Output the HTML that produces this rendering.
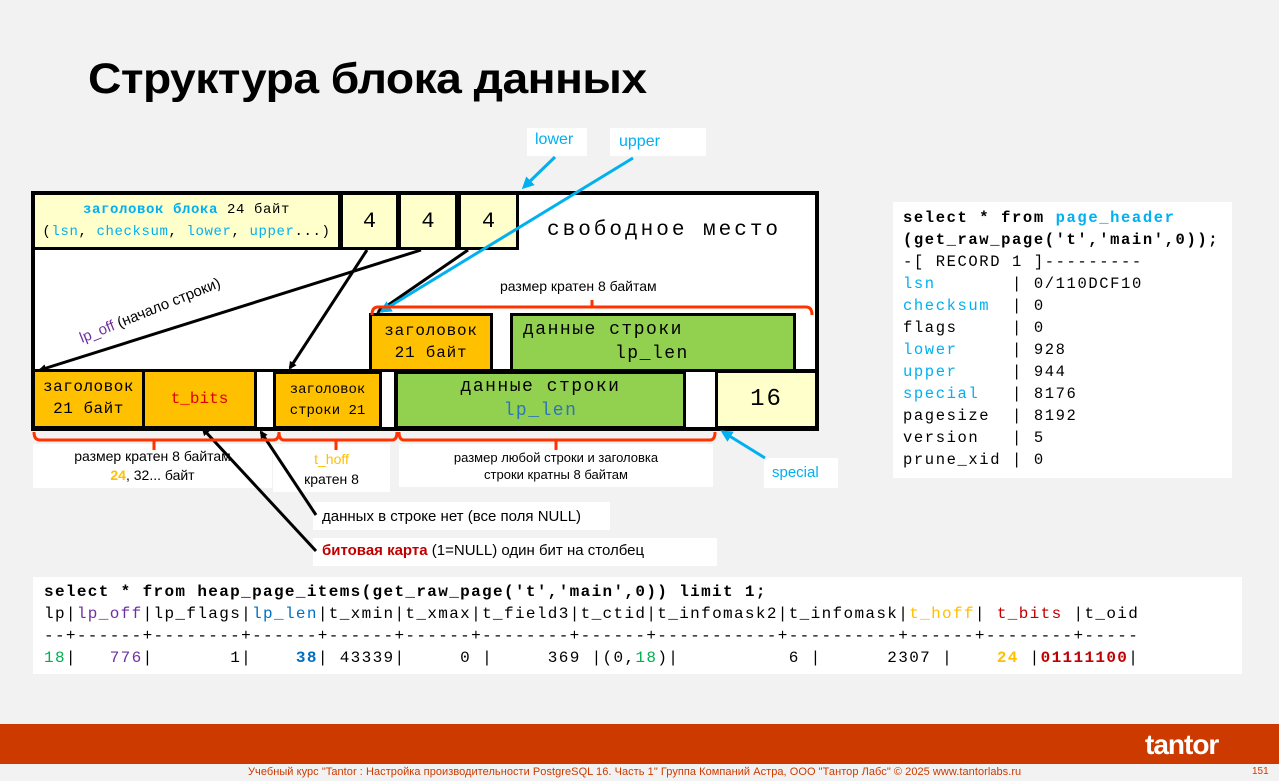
<!DOCTYPE html>
<html><head><meta charset="utf-8"><style>
*{margin:0;padding:0;box-sizing:border-box}
body{width:1279px;height:781px;background:#f2f2f2;position:relative;overflow:hidden;font-family:"Liberation Sans","DejaVu Sans",sans-serif}
.a{position:absolute}
.m{font-family:"Liberation Mono","DejaVu Sans Mono",monospace}
.w{background:#fff}
.y{background:#ffc000}
.c{background:#ffffcc}
.g{background:#92d050}
.blue{color:#00b0f0}
.ctr{display:flex;align-items:center;justify-content:center;text-align:center}
</style></head><body>
<div class="a" style="left:88px;top:55px;font-size:43px;font-weight:bold;color:#000;letter-spacing:-0.5px;transform:scaleX(1.075);transform-origin:0 0">Структура блока данных</div>

<div class="a w blue" style="left:527px;top:128px;width:60px;height:28px;font-size:16px;padding:3px 0 0 8px">lower</div>
<div class="a w blue" style="left:610px;top:128px;width:96px;height:28px;font-size:16px;padding:5px 0 0 9px">upper</div>

<div class="a" style="left:31px;top:191px;width:788px;height:240px;background:#000"></div>
<div class="a w" style="left:35px;top:195px;width:780px;height:174px"></div>
<div class="a" style="left:33px;top:193px;width:486px;height:57px;background:#000"></div>
<div class="a c m" style="left:35px;top:195px;width:303px;height:52px;font-size:14px;line-height:22px;text-align:center;padding-top:4px;letter-spacing:0.6px"><span class="blue" style="font-weight:bold">заголовок блока</span> 24 байт<br><span>(<span class="blue">lsn</span>, <span class="blue">checksum</span>, <span class="blue">lower</span>, <span class="blue">upper</span>...)</span></div>
<div class="a c m ctr" style="left:343px;top:195px;width:53px;height:52px;font-size:22px">4</div>
<div class="a c m ctr" style="left:401px;top:195px;width:54px;height:52px;font-size:22px">4</div>
<div class="a c m ctr" style="left:461px;top:195px;width:55px;height:52px;font-size:22px">4</div>
<div class="a m" style="left:547px;top:219px;font-size:21px;letter-spacing:3px">свободное место</div>
<div class="a" style="left:500px;top:278px;font-size:14px">размер кратен 8 байтам</div>

<div class="a" style="left:369px;top:313px;width:124px;height:58px;background:#000"></div>
<div class="a y m" style="left:372px;top:316px;width:118px;height:53px;font-size:16px;line-height:22px;text-align:center;padding-top:4px;letter-spacing:0.8px">заголовок<br>21 байт</div>
<div class="a" style="left:510px;top:313px;width:286px;height:58px;background:#000"></div>
<div class="a g m" style="left:513px;top:316px;width:280px;height:53px;font-size:18px;line-height:24px;padding:2px 0 0 10px;letter-spacing:1.5px">данные строки<br><span style="padding-left:92px">lp_len</span></div>

<div class="a y m" style="left:35px;top:372px;width:107px;height:54px;font-size:16px;line-height:22px;text-align:center;padding-top:4px;letter-spacing:0.5px">заголовок<br>21 байт</div>
<div class="a y m ctr" style="left:145px;top:372px;width:109px;height:54px;font-size:16px;color:#e00000">t_bits</div>
<div class="a w" style="left:257px;top:372px;width:16px;height:55px"></div>
<div class="a y m" style="left:276px;top:374px;width:103px;height:52px;font-size:14px;line-height:21px;text-align:center;padding-top:6px">заголовок<br>строки 21</div>
<div class="a w" style="left:382px;top:372px;width:12px;height:55px"></div>
<div class="a g m" style="left:398px;top:374px;width:285px;height:52px;font-size:18px;line-height:24px;text-align:center;padding-top:1px;letter-spacing:1.5px">данные строки<br><span style="color:#2e75b6">lp_len</span></div>
<div class="a w" style="left:686px;top:372px;width:29px;height:55px"></div>
<div class="a c m ctr" style="left:718px;top:373px;width:97px;height:53px;font-size:24px;letter-spacing:2px">16</div>

<div class="a w" style="left:33px;top:444px;width:239px;height:44px;font-size:14px;line-height:19px;text-align:center;padding-top:3px">размер кратен 8 байтам<br><b style="color:#ffc000">24</b>, 32... байт</div>
<div class="a w" style="left:273px;top:444px;width:117px;height:48px;font-size:14px;line-height:20px;text-align:center;padding-top:5px"><span style="color:#ffc000">t_hoff</span><br>кратен 8</div>
<div class="a w" style="left:399px;top:444px;width:314px;height:43px;font-size:13px;line-height:17px;text-align:center;padding-top:5px">размер любой строки и заголовка<br>строки кратны 8 байтам</div>
<div class="a w blue" style="left:764px;top:458px;width:74px;height:30px;font-size:15px;padding:6px 0 0 8px">special</div>
<div class="a w" style="left:313px;top:502px;width:297px;height:28px;font-size:15px;padding:6px 0 0 9px">данных в строке нет (все поля NULL)</div>
<div class="a w" style="left:313px;top:538px;width:404px;height:28px;font-size:15px;padding:4px 0 0 9px"><b style="color:#c00000">битовая карта</b> (1=NULL) один бит на столбец</div>

<div class="a w m" style="left:893px;top:202px;width:339px;height:276px;font-size:15.5px;line-height:22px;padding:5px 0 0 10px;white-space:pre;letter-spacing:1.6px"><b>select * from <span class="blue">page_header</span></b>
<b>(get_raw_page('t','main',0));</b>
-[ RECORD 1 ]---------
<span class="blue">lsn</span>       | 0/110DCF10
<span class="blue">checksum</span>  | 0
flags     | 0
<span class="blue">lower</span>     | 928
<span class="blue">upper</span>     | 944
<span class="blue">special</span>   | 8176
pagesize  | 8192
version   | 5
prune_xid | 0</div>

<div class="a w m" style="left:33px;top:577px;width:1209px;height:97px;font-size:16px;line-height:22px;padding:4px 0 0 11px;white-space:pre;letter-spacing:1.35px"><b>select * from heap_page_items(get_raw_page('t','main',0)) limit 1;</b>
lp|<span style="color:#7030a0">lp_off</span>|lp_flags|<span style="color:#0070c0">lp_len</span>|t_xmin|t_xmax|t_field3|t_ctid|t_infomask2|t_infomask|<span style="color:#ffc000">t_hoff</span>| <span style="color:#c00000">t_bits</span> |t_oid
--+------+--------+------+------+------+--------+------+-----------+----------+------+--------+-----
<span style="color:#00b050">18</span>|   <span style="color:#7030a0">776</span>|       1|    <b style="color:#0070c0">38</b>| 43339|     0 |     369 |(0,<span style="color:#00b050">18</span>)|          6 |      2307 |    <b style="color:#ffc000">24</b> |<b style="color:#c00000">01111100</b>|</div>

<svg class="a" style="left:0;top:0" width="1279" height="781">
<defs>
<marker id="ab" markerWidth="8" markerHeight="8" refX="6" refY="4" orient="auto" markerUnits="userSpaceOnUse"><path d="M0,0 L8,4 L0,8 z" fill="#000"/></marker>
<marker id="au" markerWidth="12" markerHeight="12" refX="9" refY="6" orient="auto" markerUnits="userSpaceOnUse"><path d="M0,0 L12,6 L0,12 z" fill="#00b0f0"/></marker>
</defs>
<g stroke="#000" stroke-width="3" fill="none">
<line x1="421" y1="250" x2="40" y2="370" marker-end="url(#ab)"/>
<line x1="367" y1="250" x2="290" y2="368" marker-end="url(#ab)"/>
<line x1="468" y1="250" x2="378" y2="312" marker-end="url(#ab)"/>
<line x1="316" y1="515" x2="261" y2="432" marker-end="url(#ab)"/>
<line x1="316" y1="551" x2="203" y2="429" marker-end="url(#ab)"/>
</g>
<g stroke="#00b0f0" stroke-width="3" fill="none">
<line x1="555" y1="157" x2="524" y2="187" marker-end="url(#au)"/>
<line x1="633" y1="158" x2="382" y2="311" marker-end="url(#au)"/>
<line x1="765" y1="458" x2="723" y2="432" marker-end="url(#au)"/>
</g>
<g stroke="#ff3300" stroke-width="3" fill="none">
<path d="M34,432 Q34,440 40,440 L273,440 Q279,440 279,432"/><line x1="154" y1="440" x2="154" y2="450"/>
<path d="M279,432 Q279,440 284,440 L392,440 Q397,440 397,432"/><line x1="336" y1="440" x2="336" y2="450"/>
<path d="M399,432 Q399,440 404,440 L710,440 Q715,440 715,432"/><line x1="556" y1="440" x2="556" y2="450"/>
<path d="M372,315 Q372,307 378,307 L806,307 Q812,307 812,315"/><line x1="592" y1="300" x2="592" y2="307"/>
</g>
<text x="82" y="343" transform="rotate(-22 82 343)" font-family="Liberation Sans,sans-serif" font-size="15"><tspan fill="#7030a0">lp_off</tspan> (начало строки)</text>
</svg>

<div class="a" style="left:0;top:724px;width:1279px;height:40px;background:#cc3a00"></div>
<div class="a" style="left:1145px;top:729px;color:#fff;font-size:28px;font-weight:bold;letter-spacing:-1px">tantor</div>
<div class="a" style="left:248px;top:766px;font-size:11px;color:#cc3a00;letter-spacing:0.05px">Учебный курс "Tantor : Настройка производительности PostgreSQL 16. Часть 1" Группа Компаний Астра, ООО "Тантор Лабс" © 2025 www.tantorlabs.ru</div>
<div class="a" style="left:1252px;top:766px;font-size:10px;color:#cc3a00">151</div>
</body></html>
